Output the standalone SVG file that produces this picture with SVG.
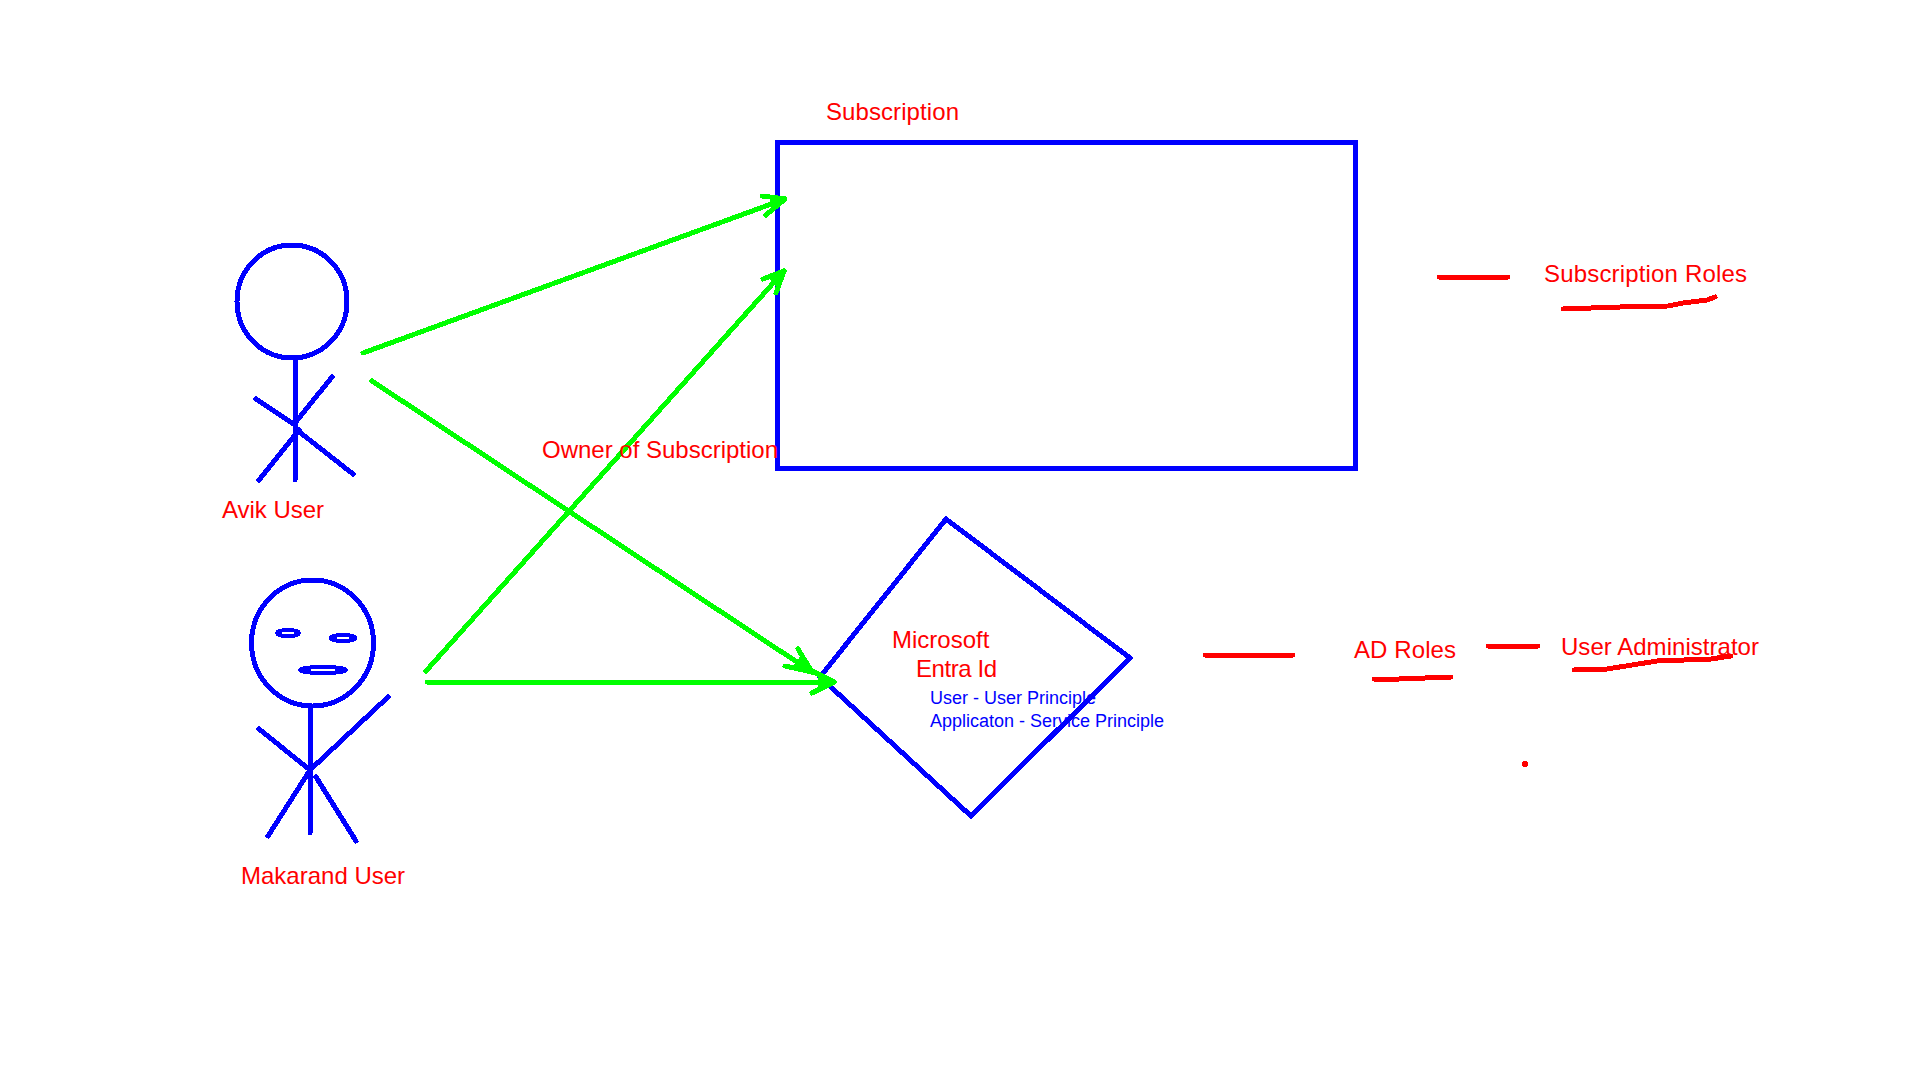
<svg xmlns="http://www.w3.org/2000/svg" width="1920" height="1080" viewBox="0 0 1920 1080" shape-rendering="crispEdges">
<style>
text{font-family:"Liberation Sans",Arial,sans-serif;font-size:24px;fill:#f00}
text.b{font-size:18px;fill:#00f}
.s{fill:none;stroke:#00f;stroke-width:5;stroke-linecap:round;stroke-linejoin:round}
.g{fill:none;stroke:#0f0;stroke-width:5;stroke-linecap:round;stroke-linejoin:round}
.h{fill:#0f0;stroke:#0f0;stroke-width:5;stroke-linecap:round;stroke-linejoin:round}
.r{fill:none;stroke:#f00;stroke-width:5;stroke-linecap:round;stroke-linejoin:round}
</style>
<rect width="1920" height="1080" fill="#fff"/>
<g id="subscription">
<rect class="s" x="777.500" y="142" width="578" height="326" style="stroke-linejoin:miter"/>
<text x="826" y="120" textLength="133">Subscription</text>
</g>
<g id="entra">
<path class="s" d="M946 519L1130 658L971 816L820 677Z"/>
<text x="892" y="648">Microsoft</text>
<text x="916" y="677" textLength="81">Entra Id</text>
<text class="b" x="930" y="704">User - User Principle</text>
<text class="b" x="930" y="727">Applicaton - Service Principle</text>
</g>
<g id="avik">
<ellipse class="s" cx="292" cy="301.500" rx="55" ry="56.500"/>
<path class="s" d="M295 360V480M332 377L295 423M256 399L295 425M299 430L259 480M302 434L353 474"/>
<text x="222" y="518" textLength="102">Avik User</text>
</g>
<g id="makarand">
<ellipse class="s" cx="312.500" cy="643" rx="61" ry="63"/>
<ellipse class="s" cx="288" cy="633" rx="11" ry="3" style="stroke-width:4"/>
<ellipse class="s" cx="343" cy="638" rx="12" ry="3" style="stroke-width:4"/>
<ellipse class="s" cx="323" cy="670" rx="23" ry="3" style="stroke-width:4"/>
<path class="s" d="M310 709V833M388 697L310 770L259 729M310 770L268 836M316 777L356 841"/>
<text x="241" y="884">Makarand User</text>
</g>
<g id="connectors">
<path class="g" d="M363 353L785 199"/>
<path class="g" d="M762 196L785 199L766 215"/>
<path class="h" d="M785 199L772 199L775 207Z"/>
<path class="g" d="M372 381L812 672"/>
<path class="g" d="M798 649L812 672L785 666"/>
<path class="h" d="M812 672L802 658L796 666Z"/>
<path class="g" d="M426 671L784 271"/>
<path class="g" d="M763 279L784 271L776 293"/>
<path class="h" d="M784 271L771 277L777 284Z"/>
<path class="g" d="M427 682H834"/>
<path class="g" d="M812 671L834 682L812 693"/>
<path class="h" d="M834 682L820 676L820 688Z"/>
</g>
<g id="owner-label"><text x="542" y="458" textLength="236">Owner of Subscription</text></g>
<g id="subscription-roles">
<path class="r" d="M1439 277H1508"/>
<text x="1544" y="282" textLength="203">Subscription Roles</text>
<path class="r" d="M1563 309L1620 307L1668 306L1683 303L1707 300L1715 297"/>
</g>
<g id="ad-roles">
<path class="r" d="M1205 655H1293"/>
<text x="1354" y="658" textLength="102">AD Roles</text>
<path class="r" d="M1374 679L1399 679L1451 677"/>
</g>
<g id="user-admin">
<path class="r" d="M1488 646H1538"/>
<text x="1561" y="655" textLength="198">User Administrator</text>
<path class="r" d="M1574 670L1607 669L1657 661L1711 659L1731 656"/>
</g>
<circle id="dot" cx="1525" cy="764" r="3" fill="#f00"/>
</svg>
